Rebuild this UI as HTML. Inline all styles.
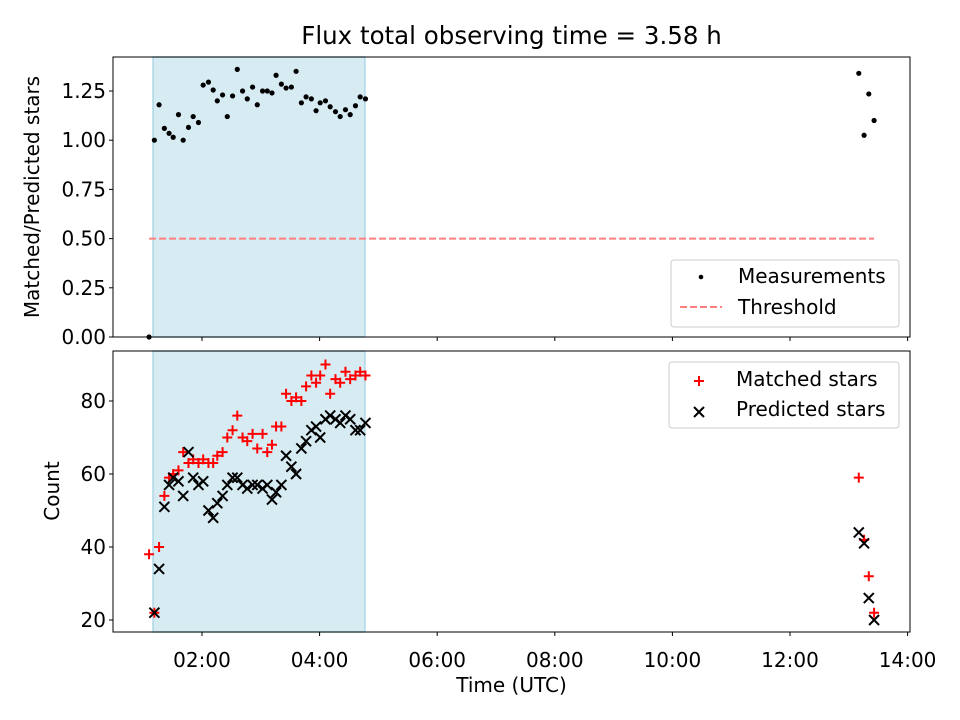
<!DOCTYPE html>
<html><head><meta charset="utf-8"><style>
body{margin:0;background:#fff;}
svg{display:block;font-family:"DejaVu Sans","Liberation Sans",sans-serif;}
</style></head><body>
<svg id="c" width="960" height="720" viewBox="0 0 960 720"></svg>
<script>
// data
const tTop = [1.10,1.19,1.27,1.36,1.44,1.51,1.60,1.68,1.77,1.85,1.94,2.02,2.11,2.19,2.26,2.35,2.43,2.52,2.60,2.69,2.77,2.86,2.94,3.03,3.11,3.19,3.26,3.35,3.43,3.52,3.60,3.69,3.77,3.86,3.94,4.01,4.10,4.18,4.27,4.35,4.44,4.52,4.61,4.69,4.78,13.17,13.26,13.34,13.43];
const ratio = [0,1.00,1.18,1.06,1.035,1.015,1.13,1.00,1.065,1.12,1.09,1.28,1.295,1.255,1.20,1.23,1.12,1.225,1.36,1.25,1.21,1.27,1.18,1.25,1.25,1.24,1.33,1.285,1.265,1.27,1.35,1.19,1.22,1.21,1.15,1.19,1.20,1.17,1.145,1.12,1.155,1.13,1.175,1.22,1.21,1.34,1.025,1.235,1.10];
const matched = [38,22,40,54,59,60,61,66,63,64,63,64,63,63,65,66,70,72,76,70,69,71,67,71,66,68,73,73,82,80,81,80,84,87,85,87,90,82,86,85,88,86,87,88,87,59,42,32,22];
const predicted = [null,22,34,51,57,59,58,54,66,59,57,58,50,48,52,54,57,59,59,57,56,57,57,56,57,53,55,57,65,62,60,67,69,72,73,70,75,76,75,74,76,75,72,72,74,44,41,26,20];
const shadeSpan = [1.167,4.77];
const threshold = 0.5;
const threshSpan = [1.10,13.43];
const xTickHours = [2,4,6,8,10,12,14];
const xTickLabels = ["02:00","04:00","06:00","08:00","10:00","12:00","14:00"];
const yTopTicks = [0,0.25,0.5,0.75,1.0,1.25];
const yBotTicks = [20,40,60,80];

const NS="http://www.w3.org/2000/svg";
const svg=document.getElementById('c');
function el(tag,attrs,parent){const e=document.createElementNS(NS,tag);for(const k in attrs)e.setAttribute(k,attrs[k]);(parent||svg).appendChild(e);return e;}
const L=113,R=910;
const FS=20;
const x=h=>202+(h-2)*58.8;
const yT=v=>337-v*196.8;
const yB=v=>620-(v-20)*3.65;

const title=el('text',{x:511.5,y:44,'text-anchor':'middle','font-size':24.5});
title.textContent='Flux total observing time = 3.58 h';



function panel(top,bot,name){
  const g=el('g',{});
  
  
  const s=el('rect',{x:x(shadeSpan[0]),y:top,width:x(shadeSpan[1])-x(shadeSpan[0]),height:bot-top,fill:'#add8e6','fill-opacity':0.5,stroke:'#add8e6','stroke-width':1.5},g);
  
  
  return g;
}
// top panel
const gT=panel(57,337,'ratio-panel');
const th=el('line',{x1:x(threshSpan[0]),x2:x(threshSpan[1]),y1:yT(threshold),y2:yT(threshold),stroke:'#ff7f7f','stroke-width':2,'stroke-dasharray':'7,3'},gT);


tTop.forEach((t,i)=>{const c=el('circle',{cx:x(t),cy:yT(ratio[i]),r:2.6,fill:'#000'},gT);

});
el('rect',{x:L,y:57,width:R-L,height:280,fill:'none',stroke:'#000','stroke-width':1},gT);
yTopTicks.forEach(v=>{el('line',{x1:L-4,x2:L,y1:yT(v),y2:yT(v),stroke:'#000'},gT);
const tx=el('text',{x:L-7,y:yT(v)+7,'text-anchor':'end','font-size':FS},gT);tx.textContent=v.toFixed(2);

});
xTickHours.forEach(h=>el('line',{x1:x(h),x2:x(h),y1:337,y2:341,stroke:'#000'},gT));
const yl1=el('text',{transform:'translate(39,197) rotate(-90)','text-anchor':'middle','font-size':FS},gT);yl1.textContent='Matched/Predicted stars';


// legend top
const lg1=el('g',{},gT);


el('rect',{x:671,y:260,width:228,height:67,rx:3,fill:'#fff','fill-opacity':0.8,stroke:'#ccc'},lg1);
el('circle',{cx:701,cy:277,r:2.3,fill:'#000'},lg1);
let t1=el('text',{x:738,y:283,'font-size':FS},lg1);t1.textContent='Measurements';
el('line',{x1:680,x2:722,y1:307,y2:307,stroke:'#ff7f7f','stroke-width':2,'stroke-dasharray':'7,3'},lg1);
let t2=el('text',{x:738,y:314,'font-size':FS},lg1);t2.textContent='Threshold';

// bottom panel
const gB=panel(351,632,'count-panel');
function plus(cx,cy,p){el('path',{d:`M${cx-5} ${cy}H${cx+5}M${cx} ${cy-5}V${cy+5}`,stroke:'#f00','stroke-width':2},p);}
function cross(cx,cy,p){el('path',{d:`M${cx-5} ${cy-5}L${cx+5} ${cy+5}M${cx-5} ${cy+5}L${cx+5} ${cy-5}`,stroke:'#000','stroke-width':2},p);}
tTop.forEach((t,i)=>{if(matched[i]!=null){const g=el('g',{},gB);


plus(x(t),yB(matched[i]),g);}});
tTop.forEach((t,i)=>{if(predicted[i]!=null){const g=el('g',{},gB);


cross(x(t),yB(predicted[i]),g);}});
el('rect',{x:L,y:351,width:R-L,height:281,fill:'none',stroke:'#000','stroke-width':1},gB);
yBotTicks.forEach(v=>{el('line',{x1:L-4,x2:L,y1:yB(v),y2:yB(v),stroke:'#000'},gB);
const tx=el('text',{x:L-7,y:yB(v)+7,'text-anchor':'end','font-size':FS},gB);tx.textContent=v;

});
xTickHours.forEach((h,i)=>{el('line',{x1:x(h),x2:x(h),y1:632,y2:636,stroke:'#000'},gB);
const tx=el('text',{x:x(h),y:667,'text-anchor':'middle','font-size':FS},gB);tx.textContent=xTickLabels[i];

});
const xl=el('text',{x:511.5,y:692,'text-anchor':'middle','font-size':FS},gB);xl.textContent='Time (UTC)';


const yl2=el('text',{transform:'translate(59,491) rotate(-90)','text-anchor':'middle','font-size':FS},gB);yl2.textContent='Count';


const lg2=el('g',{},gB);


el('rect',{x:669,y:362,width:230,height:66,rx:3,fill:'#fff','fill-opacity':0.8,stroke:'#ccc'},lg2);
plus(699,381,lg2);
let t3=el('text',{x:736,y:386,'font-size':FS},lg2);t3.textContent='Matched stars';
cross(699,412,lg2);
let t4=el('text',{x:736,y:416,'font-size':FS},lg2);t4.textContent='Predicted stars';
</script>
</body></html>
